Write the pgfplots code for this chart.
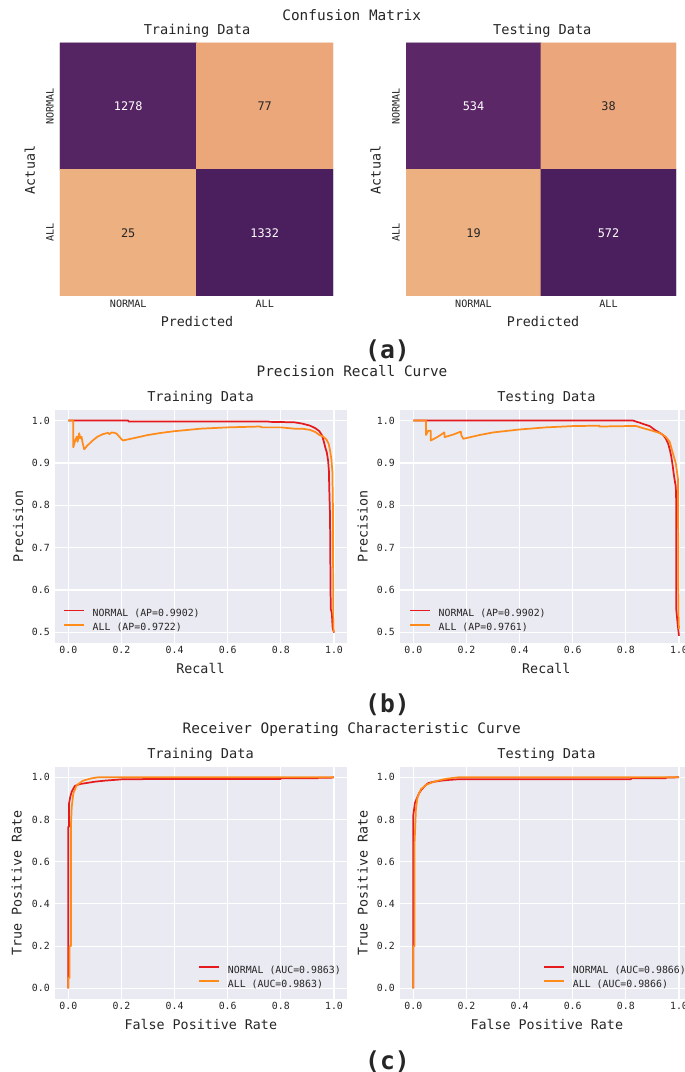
\documentclass[border=0pt]{standalone}
\usepackage{fontspec}
\setmainfont{DejaVu Sans Mono}
\usepackage{pgfplots}
\pgfplotsset{compat=1.18}
\definecolor{txt}{HTML}{262626}
\definecolor{bgc}{HTML}{EAEAF2}
\definecolor{cnormal}{HTML}{E41A1C}
\definecolor{call}{HTML}{FF8C1A}

\pgfplotsset{
  colormap={flare}{rgb255(0cm)=(237,176,129) rgb255(4cm)=(235,166,122) rgb255(20cm)=(232,134,104) rgb255(45cm)=(215,80,90) rgb255(70cm)=(160,56,110) rgb255(90cm)=(100,42,106) rgb255(100cm)=(75,31,94)},
  heat/.style={
    scale only axis, height=189.75pt,
    xmin=-0.5, xmax=1.5, ymin=-0.5, ymax=1.5, y dir=reverse,
    axis line style={draw=none}, major tick length=0pt,
    xtick={0,1}, ytick={0,1}, xticklabels={NORMAL,ALL}, yticklabels={NORMAL,ALL},
    tick label style={font=\fontsize{7.6}{9}\selectfont, text=txt, inner sep=0pt},
    xticklabel style={anchor=north, yshift=-2.6pt},
    yticklabel style={xshift=-4.5pt, rotate=90, anchor=south},
    colormap name=flare,
    anchor=south west,
  },
  curve/.style={
    scale only axis, width=219.2pt,
    axis background/.style={fill=bgc},
    axis line style={draw=none}, major tick length=0pt,
    grid=major, grid style={white, line width=0.85pt},
    xmin=-0.05, xmax=1.05,
    xtick={0,0.2,0.4,0.6,0.8,1.0},
    tick label style={font=\fontsize{7.4}{9}\selectfont, text=txt, inner sep=0pt},
    xticklabel style={anchor=north, yshift=-2.5pt},
    yticklabel style={anchor=east, xshift=-3.75pt},
    /pgf/number format/fixed, /pgf/number format/fixed zerofill,
    /pgf/number format/precision=1, /pgf/number format/assume math mode=true,
    legend style={draw=none, fill=none, inner sep=0pt, font=\fontsize{7.4}{9}\selectfont, text=txt,
      row sep=3.6pt, nodes={inner sep=0pt, text height=5.5pt, text depth=1.5pt},
      /tikz/every odd column/.style={column sep=5.8pt}, anchor=west},
    legend cell align=left,
    legend image code/.code={\draw[##1, line width=1.3pt] (0pt,2.7pt) -- (15pt,2.7pt);},
    anchor=south west,
  },
  lnormal/.style={color=cnormal, line width=1.3pt, line join=round},
  lall/.style={color=call, line width=1.3pt, line join=round},
}
\tikzset{
  t108/.style={font=\fontsize{10.8}{12}\selectfont, text=txt, inner sep=0pt, text height=7.9pt, text depth=0pt},
  t102/.style={font=\fontsize{10.2}{12}\selectfont, text=txt, inner sep=0pt, text height=7.45pt, text depth=0pt},
  t100/.style={font=\fontsize{10}{12}\selectfont, text=txt, inner sep=0pt, text height=7.3pt, text depth=0pt},
  tpan/.style={font=\fontsize{18.5}{20}\selectfont\bfseries, text=txt, inner sep=0pt, text height=14pt, text depth=2.4pt},
}

\begin{document}
\begin{tikzpicture}[x=0.75pt, y=0.75pt]
\path[use as bounding box, clip] (0,0) rectangle (685,1072);
\fill[white] (0,0) rectangle (685,1072);

% ---------------- Confusion matrix: training
\begin{axis}[heat, at={(45pt,582pt)}, width=204.75pt]
\addplot[matrix plot*, mesh/cols=2, point meta=explicit] table[meta=c]{
x y c
0 0 1278
1 0 77
0 1 25
1 1 1332
};
\addplot[draw=none, mark=none, point meta=explicit symbolic, nodes near coords, nodes near coords align={center},
  every node near coord/.append style={font=\fontsize{8.9}{10}\selectfont, text=white, anchor=center}] table[meta=c]{
x y c
0 0 1278
1 1 1332
};
\addplot[draw=none, mark=none, point meta=explicit symbolic, nodes near coords, nodes near coords align={center},
  every node near coord/.append style={font=\fontsize{8.9}{10}\selectfont, text=txt, anchor=center}] table[meta=c]{
x y c
1 0 77
0 1 25
};
\end{axis}

% ---------------- Confusion matrix: testing
\begin{axis}[heat, at={(304.5pt,582pt)}, width=202.5pt]
\addplot[matrix plot*, mesh/cols=2, point meta=explicit] table[meta=c]{
x y c
0 0 534
1 0 38
0 1 19
1 1 572
};
\addplot[draw=none, mark=none, point meta=explicit symbolic, nodes near coords, nodes near coords align={center},
  every node near coord/.append style={font=\fontsize{8.9}{10}\selectfont, text=white, anchor=center}] table[meta=c]{
x y c
0 0 534
1 1 572
};
\addplot[draw=none, mark=none, point meta=explicit symbolic, nodes near coords, nodes near coords align={center},
  every node near coord/.append style={font=\fontsize{8.9}{10}\selectfont, text=txt, anchor=center}] table[meta=c]{
x y c
1 0 38
0 1 19
};
\end{axis}

% ---------------- PR: training
\begin{axis}[curve, at={(41.25pt,321.75pt)}, height=174.75pt, ymin=0.475, ymax=1.025,
  ytick={0.5,0.6,0.7,0.8,0.9,1.0},
  legend style={at={(axis description cs:0.0274,0.0936)}}]
\addplot[lnormal] coordinates {
(0,1.0) (0.226,1.0) (0.226,0.998) (0.75,0.998) (0.76,0.997) (0.85,0.996) (0.88,0.993) (0.91,0.988)
(0.93,0.982) (0.945,0.975) (0.955,0.965) (0.962,0.95) (0.968,0.935) (0.973,0.925) (0.978,0.905)
(0.981,0.88) (0.982,0.845) (0.984,0.8) (0.985,0.78) (0.986,0.7) (0.987,0.6) (0.988,0.555)
(0.992,0.545) (0.995,0.51) (1.0,0.4996)};
\addlegendentry{NORMAL (AP=0.9902)}
\addplot[lall] coordinates {
(0,1.0) (0.019,1.0) (0.019,0.937) (0.027,0.955) (0.032,0.962) (0.035,0.95) (0.041,0.97) (0.045,0.958)
(0.05,0.962) (0.053,0.95) (0.06,0.932) (0.07,0.94) (0.09,0.952) (0.11,0.962) (0.13,0.968) (0.15,0.971)
(0.155,0.968) (0.163,0.972) (0.175,0.971) (0.182,0.969) (0.195,0.96) (0.205,0.953) (0.25,0.959)
(0.3,0.966) (0.35,0.971) (0.4,0.975) (0.5,0.981) (0.6,0.984) (0.72,0.986) (0.73,0.984) (0.8,0.984)
(0.85,0.981) (0.88,0.981) (0.91,0.978) (0.93,0.973) (0.945,0.966) (0.96,0.962) (0.972,0.955)
(0.98,0.945) (0.985,0.93) (0.99,0.91) (0.994,0.88) (0.996,0.8) (0.997,0.6) (0.998,0.51) (1.0,0.5004)};
\addlegendentry{ALL (AP=0.9722)}
\end{axis}

% ---------------- PR: testing
\begin{axis}[curve, at={(300pt,321.75pt)}, height=174.75pt, ymin=0.475, ymax=1.025,
  ytick={0.5,0.6,0.7,0.8,0.9,1.0},
  legend style={at={(axis description cs:0.0308,0.0936)}}]
\addplot[lnormal] coordinates {
(0,1.0) (0.827,1.0) (0.852,0.995) (0.87,0.991) (0.89,0.987) (0.909,0.978) (0.925,0.972) (0.94,0.966)
(0.95,0.958) (0.959,0.946) (0.966,0.93) (0.971,0.915) (0.976,0.895) (0.98,0.875) (0.985,0.855)
(0.988,0.844) (0.99,0.8) (0.99,0.553) (0.995,0.52) (1.0,0.492)};
\addlegendentry{NORMAL (AP=0.9902)}
\addplot[lall] coordinates {
(0,1.0) (0.048,1.0) (0.048,0.966) (0.056,0.976) (0.066,0.976) (0.066,0.953) (0.09,0.961) (0.117,0.972)
(0.118,0.961) (0.15,0.967) (0.179,0.974) (0.181,0.965) (0.188,0.957) (0.25,0.966) (0.3,0.972)
(0.4,0.979) (0.5,0.984) (0.6,0.987) (0.7,0.988) (0.7,0.986) (0.8,0.987) (0.84,0.987) (0.86,0.983)
(0.9,0.976) (0.93,0.97) (0.95,0.962) (0.965,0.95) (0.977,0.923) (0.988,0.899) (0.996,0.863)
(0.997,0.7) (0.998,0.55) (1.0,0.508)};
\addlegendentry{ALL (AP=0.9761)}
\end{axis}

% ---------------- ROC: training
\begin{axis}[curve, at={(41.25pt,54.825pt)}, height=174.15pt, ymin=-0.05, ymax=1.05,
  ytick={0,0.2,0.4,0.6,0.8,1.0},
  legend style={at={(axis description cs:0.490,0.092)}}]
\addplot[lnormal] coordinates {
(0,0) (0,0.766) (0.003,0.766) (0.003,0.877) (0.008,0.91) (0.013,0.932) (0.02,0.948) (0.025,0.959)
(0.035,0.964) (0.044,0.968) (0.06,0.971) (0.075,0.974) (0.1,0.979) (0.138,0.984) (0.2,0.99)
(0.28,0.99) (0.28,0.992) (0.8,0.992) (0.8,0.995) (0.94,0.995) (0.94,0.998) (0.99,0.998) (1,1)};
\addlegendentry{NORMAL (AUC=0.9863)}
\addplot[lall] coordinates {
(0,0) (0,0.05) (0.005,0.05) (0.005,0.2) (0.01,0.2) (0.01,0.77) (0.013,0.86) (0.019,0.924)
(0.032,0.963) (0.056,0.984) (0.088,0.995) (0.113,1.0) (1,1)};
\addlegendentry{ALL (AUC=0.9863)}
\end{axis}

% ---------------- ROC: testing
\begin{axis}[curve, at={(300pt,54.825pt)}, height=174.15pt, ymin=-0.05, ymax=1.05,
  ytick={0,0.2,0.4,0.6,0.8,1.0},
  legend style={at={(axis description cs:0.490,0.092)}}]
\addplot[lnormal] coordinates {
(0,0) (0,0.82) (0.006,0.877) (0.01,0.89) (0.015,0.905) (0.022,0.925) (0.032,0.943) (0.045,0.96)
(0.056,0.972) (0.075,0.978) (0.1,0.983) (0.13,0.987) (0.163,0.99) (0.3,0.99) (0.3,0.991)
(0.82,0.991) (0.82,0.995) (0.95,0.995) (0.95,0.998) (1,1)};
\addlegendentry{NORMAL (AUC=0.9866)}
\addplot[lall] coordinates {
(0,0) (0,0.2) (0.005,0.2) (0.005,0.695) (0.01,0.85) (0.015,0.9) (0.022,0.925) (0.03,0.945)
(0.05,0.965) (0.08,0.98) (0.12,0.992) (0.17,1.0) (1,1)};
\addlegendentry{ALL (AUC=0.9866)}
\end{axis}

% ---------------- texts
\node[t108] at (351.7,1057) {Confusion Matrix};
\node[t102] at (197,1042) {Training Data};
\node[t102] at (542.3,1042) {Testing Data};
\node[t100, rotate=90] at (30,902) {Actual};
\node[t100, rotate=90] at (375.7,902) {Actual};
\node[t100] at (197,750) {Predicted};
\node[t100] at (543,750) {Predicted};
\node[tpan] at (387.5,721) {(a)};

\node[t108] at (352,700.3) {Precision Recall Curve};
\node[t102] at (200.5,675.3) {Training Data};
\node[t102] at (546.5,675.3) {Testing Data};
\node[t100, rotate=90] at (18.3,545.3) {Precision};
\node[t100, rotate=90] at (362.7,545.3) {Precision};
\node[t100] at (200.5,403.7) {Recall};
\node[t100] at (546.3,403.7) {Recall};
\node[tpan] at (387.5,367) {(b)};

\node[t108] at (351.7,343.7) {Receiver Operating Characteristic Curve};
\node[t102] at (200.5,318.7) {Training Data};
\node[t102] at (546.5,318.7) {Testing Data};
\node[t100, rotate=90] at (16.7,189) {True Positive Rate};
\node[t100, rotate=90] at (362.7,189) {True Positive Rate};
\node[t100] at (200.8,47) {False Positive Rate};
\node[t100] at (546.8,47) {False Positive Rate};
\node[tpan] at (387.5,10) {(c)};
\end{tikzpicture}
\end{document}
